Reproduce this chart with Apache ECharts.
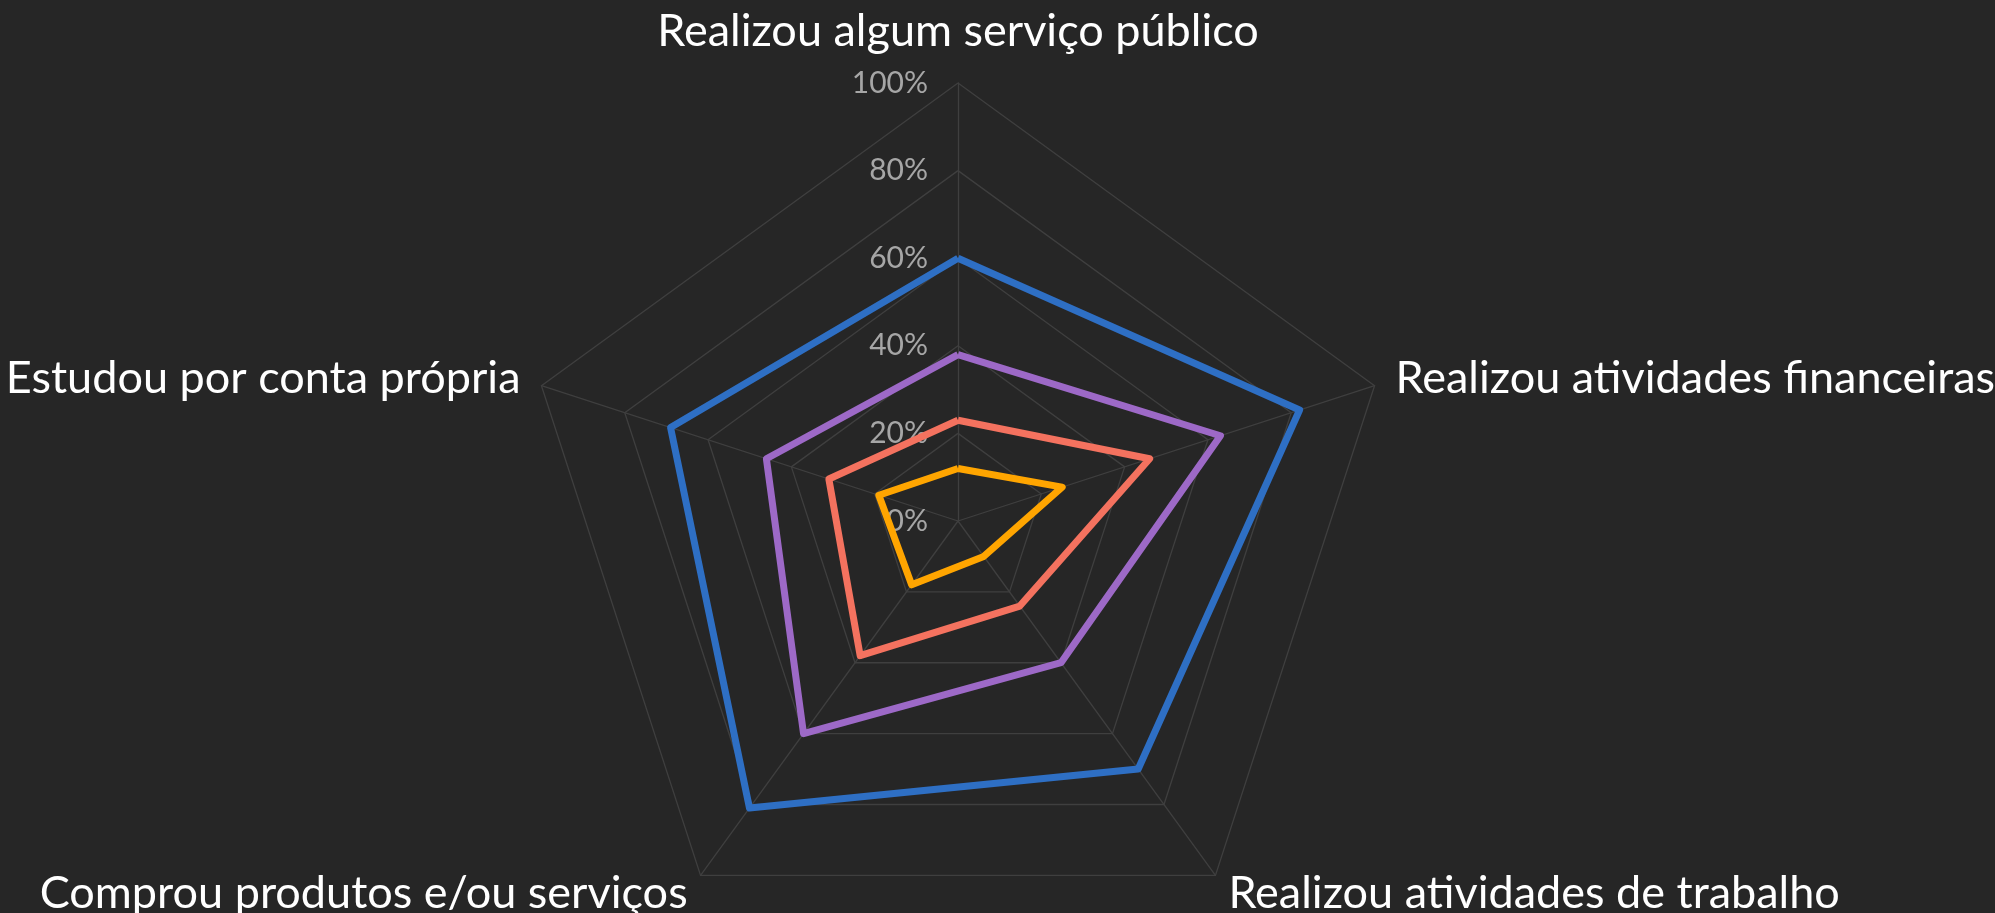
<!DOCTYPE html>
<html>
<head>
<meta charset="utf-8">
<script src="https://cdn.jsdelivr.net/npm/echarts@6/dist/echarts.min.js"></script>
<style>
html,body{margin:0;padding:0;background:#262626;}
#chart{width:1995px;height:913px;}
</style>
</head>
<body>
<div id="chart"></div>
<script>
// Indicators, in drawing order
const categories = [
  'Realizou algum serviço público',
  'Estudou por conta própria',
  'Comprou produtos e/ou serviços',
  'Realizou atividades de trabalho',
  'Realizou atividades financeiras'
];
// Values (%) in the same order as categories
const serieBlue   = [60, 69, 81, 70, 82];
const seriePurple = [38, 46, 60, 40, 63];
const serieRed    = [23, 31, 38, 24, 46];
const serieOrange = [12, 19, 18, 10, 25];
const tickLabels = ['0%', '20%', '40%', '60%', '80%', '100%'];

const seriesDefs = [
  {name: 'Série 1', values: serieBlue,   color: '#2E6FC4'},
  {name: 'Série 2', values: seriePurple, color: '#9D69C7'},
  {name: 'Série 3', values: serieRed,    color: '#F4725F'},
  {name: 'Série 4', values: serieOrange, color: '#FFA500'}
];

const chart = echarts.init(document.getElementById('chart'));
chart.setOption({
  backgroundColor: '#262626',
  animation: false,
  radar: {
    center: [958, 521],
    radius: 438,
    startAngle: 90,
    shape: 'polygon',
    splitNumber: 5,
    nameGap: 22,
    axisName: {
      color: '#ffffff',
      fontFamily: 'Lato',
      fontSize: 45,
      padding: [8, 0, 0, 0]
    },
    axisLine: {lineStyle: {color: '#3f3f3f', width: 1.3}},
    splitLine: {lineStyle: {color: '#3f3f3f', width: 1.3}},
    splitArea: {show: false},
    axisTick: {show: false},
    axisLabel: {
      show: false
    },
    indicator: categories.map((c, i) => {
      const ind = {name: c, min: 0, max: 100};
      if (i === 0) {
        ind.nameGap = 29;
        ind.axisLabel = {
          show: true,
          color: '#a6a6a6',
          fontFamily: 'Lato',
          fontSize: 30,
          margin: 30,
          formatter: function (v) { return tickLabels[Math.round(v / 20)]; }
        };
      }
      return ind;
    })
  },
  series: [{
    type: 'radar',
    symbol: 'none',
    data: seriesDefs.map(s => ({
      name: s.name,
      value: s.values,
      lineStyle: {color: s.color, width: 7},
      itemStyle: {color: s.color}
    }))
  }]
});
</script>
</body>
</html>
